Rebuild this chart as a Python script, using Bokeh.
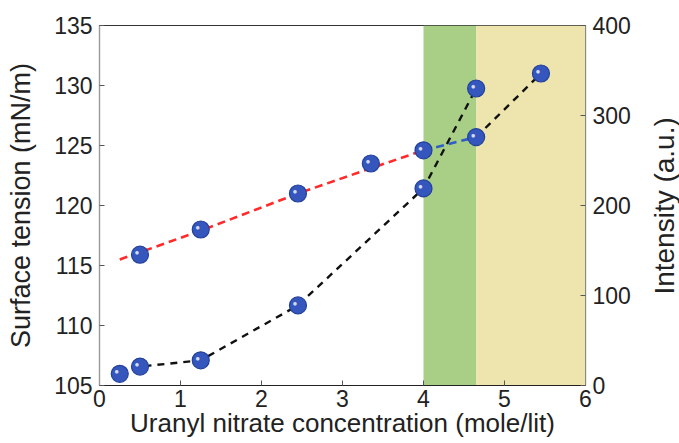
import math
from bokeh.plotting import figure
from bokeh.layouts import row
from bokeh.models import Range1d, LinearAxis, FixedTicker, ColumnDataSource
from bokeh.core.properties import value
from bokeh.embed import file_html
from bokeh.resources import INLINE

# Uranyl nitrate concentration (mole/lit)
conc_st = [0.5, 1.25, 2.45, 3.35, 4.0, 4.65, 5.45]
# Surface tension (mN/m)
surface_tension = [115.9, 118.0, 121.0, 123.5, 124.6, 125.7, 131.0]
# Smooth trend drawn through the surface-tension points below 4 mole/lit
trend_x = [0.25, 0.5, 1.25, 2.45, 3.35, 4.0]
trend_y = [115.5, 116.1, 117.9, 121.0, 123.1, 124.6]

conc_int = [0.25, 0.5, 1.25, 2.45, 4.0, 4.65]
intensity = [13, 21, 28, 89, 219, 330]

# Shaded regions along the concentration axis
band_edges = [4.0, 4.65, 6.0]
band_colors = ["#a9cf87", "#ede4ae"]

x_ticks = [0, 1, 2, 3, 4, 5, 6]
left_ticks = [105, 110, 115, 120, 125, 130, 135]
right_ticks = [0, 100, 200, 300, 400]

FONT = "Liberation Sans"
TXT = "#222222"
H = 443

p = figure(width=648, height=H, output_backend="svg", toolbar_location=None,
           x_range=Range1d(0, 6), y_range=Range1d(105, 135),
           min_border_left=99, min_border_right=63, min_border_top=25,
           min_border_bottom=58)
p.extra_y_ranges = {"int": Range1d(0, 400)}
p.background_fill_color = "white"
p.border_fill_color = "white"
p.outline_line_color = "#333333"
p.outline_line_width = 1.2
p.xgrid.visible = False
p.ygrid.visible = False

# shaded bands
p.quad(left=band_edges[:-1], right=band_edges[1:], bottom=105, top=135,
       fill_color=band_colors, line_color=None)

# surface tension: red trend, blue step, black continuation
p.line(trend_x, trend_y, line_color="#ff2a2a", line_width=2.6, line_dash="8 5")
p.line(conc_st[4:6], surface_tension[4:6], line_color="#2f5ec4", line_width=2.6,
       line_dash="8 5")
p.line(conc_st[5:7], surface_tension[5:7], line_color="#111111", line_width=2.4,
       line_dash="7 6")

# intensity curve
p.line(conc_int, intensity, y_range_name="int", line_color="#111111",
       line_width=2.4, line_dash="7 6")


def spheres(xs, ys, rng="default"):
    src = ColumnDataSource(dict(x=xs, y=ys))
    p.scatter("x", "y", source=src, y_range_name=rng, size=17,
              fill_color="#3557bd", line_color="#23409a", line_width=1.2)
    p.text("x", "y", text=value("●"), source=src, y_range_name=rng,
           x_offset=-3, y_offset=-2, text_align="center",
           text_baseline="middle", text_font_size="8px",
           text_color="#e8eeff", text_alpha=0.9)


spheres(conc_st, surface_tension)
spheres(conc_int, intensity, "int")

# axes
xa = p.xaxis[0]
xa.ticker = FixedTicker(ticks=x_ticks)
xa.axis_label = "Uranyl nitrate concentration (mole/lit)"

ya = p.yaxis[0]
ya.ticker = FixedTicker(ticks=left_ticks)
ya.axis_label = "Surface tension (mN/m)"

ra = LinearAxis(y_range_name="int", ticker=FixedTicker(ticks=right_ticks))
p.add_layout(ra, "right")

for ax in (xa, ya, ra):
    ax.major_tick_in = 5
    ax.major_tick_out = 0
    ax.minor_tick_line_color = None
    ax.major_tick_line_color = "#555555"
    ax.major_label_text_font = FONT
    ax.major_label_text_font_size = "23px"
    ax.major_label_text_color = TXT
    ax.axis_label_text_font = FONT
    ax.axis_label_text_font_style = "normal"
    ax.axis_label_text_color = TXT

xa.axis_line_color = "#222222"
ya.axis_line_color = "#999999"
ra.axis_line_color = "#888888"

xa.major_label_standoff = 4
xa.axis_label_standoff = -2
xa.axis_label_text_font_size = "26px"

ya.major_label_standoff = 7
ya.axis_label_standoff = 15
ya.axis_label_text_font_size = "27px"

ra.major_label_standoff = 7

# narrow strip carrying the right-hand title, reading bottom-to-top
side = figure(width=31, height=H, output_backend="svg", toolbar_location=None,
              x_range=Range1d(0, 1), y_range=Range1d(0, H),
              x_axis_location=None, y_axis_location=None,
              min_border=0, outline_line_color=None)
side.xgrid.visible = False
side.ygrid.visible = False
side.text(x=[0.5], y=[H - 222], text=["Intensity (a.u.)"], angle=math.pi / 2,
          text_align="center", text_baseline="middle",
          text_font=value(FONT), text_font_size="28px", text_color=TXT)

layout = row(p, side, spacing=0)
open("out.html", "w").write(file_html(layout, INLINE))
